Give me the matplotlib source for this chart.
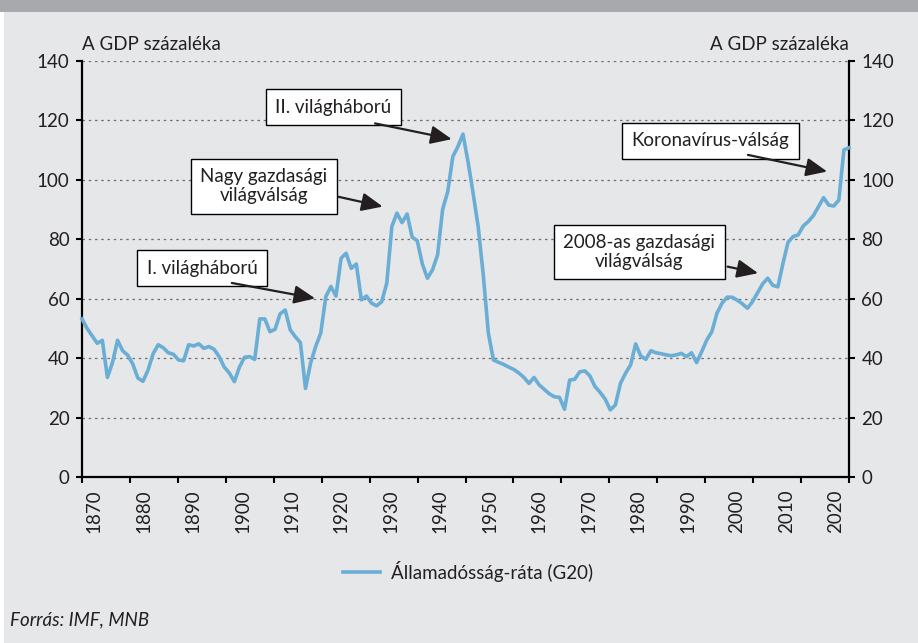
import numpy as np
import matplotlib
matplotlib.use("Agg")
import matplotlib.pyplot as plt
from matplotlib.patches import Rectangle

plt.rcParams['font.family'] = ['Lato', 'DejaVu Sans']

# ---------------- data ----------------
years = list(range(1870, 2022))
debt = [
    53.2, 50.0, 47.5, 45.0, 46.0, 33.5, 38.5, 46.0, 42.5, 41.0,
    38.0, 33.3, 32.2, 36.0, 41.5, 44.5, 43.5, 41.8, 41.3, 39.4,
    39.1, 44.5, 44.1, 44.8, 43.3, 43.9, 43.0, 40.5, 37.0, 35.0,
    32.1, 37.0, 40.3, 40.5, 39.6, 53.2, 53.2, 48.9, 49.7, 54.9,
    56.2, 49.5, 47.2, 45.2, 29.8, 38.3, 43.9, 48.4, 60.7, 64.1,
    60.9, 73.6, 75.3, 70.2, 71.7, 59.6, 60.9, 58.5, 57.6, 59.0,
    65.2, 84.3, 88.8, 85.6, 88.5, 80.7, 79.5, 71.7, 66.9, 69.7,
    74.7, 90.1, 96.0, 107.8, 111.2, 115.4, 106.1, 95.5, 84.2, 68.0,
    48.4, 39.4, 38.6, 37.9, 37.0, 36.2, 35.0, 33.5, 31.5, 33.5,
    31.0, 29.5, 28.0, 27.0, 26.8, 22.8, 32.6, 32.9, 35.4, 35.7,
    34.0, 30.4, 28.5, 26.2, 22.6, 24.2, 31.5, 34.9, 37.7, 44.8,
    40.7, 39.6, 42.5, 41.8, 41.5, 41.1, 40.8, 41.1, 41.6, 40.5,
    41.8, 38.5, 42.2, 46.1, 48.9, 55.1, 58.5, 60.5, 60.5, 59.5,
    58.3, 56.8, 59.0, 62.0, 65.0, 66.9, 64.5, 64.0, 71.9, 79.0,
    80.9, 81.5, 84.5, 86.0, 88.0, 91.0, 94.0, 91.5, 91.2, 93.2,
    110.1, 110.8,
]
series_label = "Államadósság-ráta (G20)"
x_tick_labels = [str(y) for y in range(1870, 2021, 10)]
y_ticks = [0, 20, 40, 60, 80, 100, 120, 140]
axis_title = "A GDP százaléka"
source = "Forrás: IMF, MNB"

annotations = [
    # text, box centre (year, value), arrow tail, arrow head
    ("I. világháború", (1893.6, 70.3), (1899.5, 65.3), (1915.9, 60.1)),
    ("Nagy gazdasági\nvilágválság", (1905.8, 97.9), (1920.5, 94.3), (1929.2, 91.0)),
    ("II. világháború", (1919.5, 124.5), (1927.7, 119.0), (1942.8, 113.7)),
    ("2008-as gazdasági\nvilágválság", (1979.7, 75.7), (1997.1, 70.8), (2003.1, 68.6)),
    ("Koronavírus-válság", (1993.7, 113.1), (2001.1, 108.4), (2016.7, 102.8)),
]

# ---------------- styling ----------------
W, H = 918, 643
BG = '#e6e7e8'
BAND = '#a7a9ac'
LINE = '#6aadd5'
TXT = '#231f20'
FS = 13.5

fig = plt.figure(figsize=(W / 100, H / 100), dpi=100)
fig.patch.set_facecolor('white')
fig.add_artist(Rectangle((4 / W, 0), 1 - 4 / W, 1, transform=fig.transFigure,
                         facecolor=BG, edgecolor='none', zorder=-10))
fig.add_artist(Rectangle((0, 1 - 12 / H), 1, 12 / H, transform=fig.transFigure,
                         facecolor=BAND, edgecolor='none', zorder=-9))

ax = fig.add_axes([82 / W, 1 - 477 / H, (849 - 82) / W, (477 - 61) / H])
ax.set_facecolor(BG)
ax.plot(years, debt, color=LINE, lw=2.6, solid_joinstyle='round', label=series_label,
        zorder=3, clip_on=False)
ax.set_xlim(1870, 2021)
ax.set_ylim(0, 140)

ax.spines['top'].set_visible(False)
for s in ['left', 'right', 'bottom']:
    ax.spines[s].set_color('black')
    ax.spines[s].set_linewidth(1.6)

ax.set_yticks(y_ticks)
ax.tick_params(axis='y', which='major', left=True, right=True, labelleft=True,
               labelright=True, length=4, width=1.5, direction='out', pad=5,
               labelsize=FS, labelcolor=TXT, color='black')
for yv in y_ticks[1:]:
    ax.axhline(yv, color='#6f6f6f', lw=0.9, ls=(0, (2, 3)), zorder=1)

# x ticks: marks every 1/16 of the axis, labels every 10 years
ax.set_xticks(np.linspace(1870, 2021, 17), minor=True)
ax.tick_params(axis='x', which='minor', length=4, width=1.5, direction='out',
               color='black', labelbottom=False)
ax.set_xticks(np.linspace(1872.4, 2018.4, len(x_tick_labels)))
ax.set_xticklabels(x_tick_labels, rotation=90)
ax.tick_params(axis='x', which='major', length=0, pad=9, labelsize=FS, labelcolor=TXT)

ax.text(0.0, 1.02, axis_title, transform=ax.transAxes, ha='left', va='bottom',
        fontsize=FS, color=TXT)
ax.text(1.0, 1.02, axis_title, transform=ax.transAxes, ha='right', va='bottom',
        fontsize=FS, color=TXT)

for text, center, tail, head in annotations:
    ax.text(center[0], center[1], text, ha='center', va='center', fontsize=FS,
            color=TXT, linespacing=1.15, zorder=5,
            bbox=dict(boxstyle='square,pad=0.5', fc='white', ec='black', lw=1.0))
    ax.annotate('', xy=head, xytext=tail, zorder=6,
                arrowprops=dict(arrowstyle='-|>,head_length=0.8,head_width=0.35',
                                color=TXT, lw=1.6, mutation_scale=16,
                                shrinkA=0, shrinkB=0))

fig.legend(loc='center', bbox_to_anchor=(468 / W, 1 - 571 / H), frameon=False,
           fontsize=FS, handlelength=2.0, handletextpad=0.6, labelcolor=TXT)
fig.text(10 / W, 1 - 620 / H, source, ha='left', va='center', fontsize=FS,
         style='italic', color=TXT)

fig.savefig('out.png', dpi=100, facecolor=fig.get_facecolor())
